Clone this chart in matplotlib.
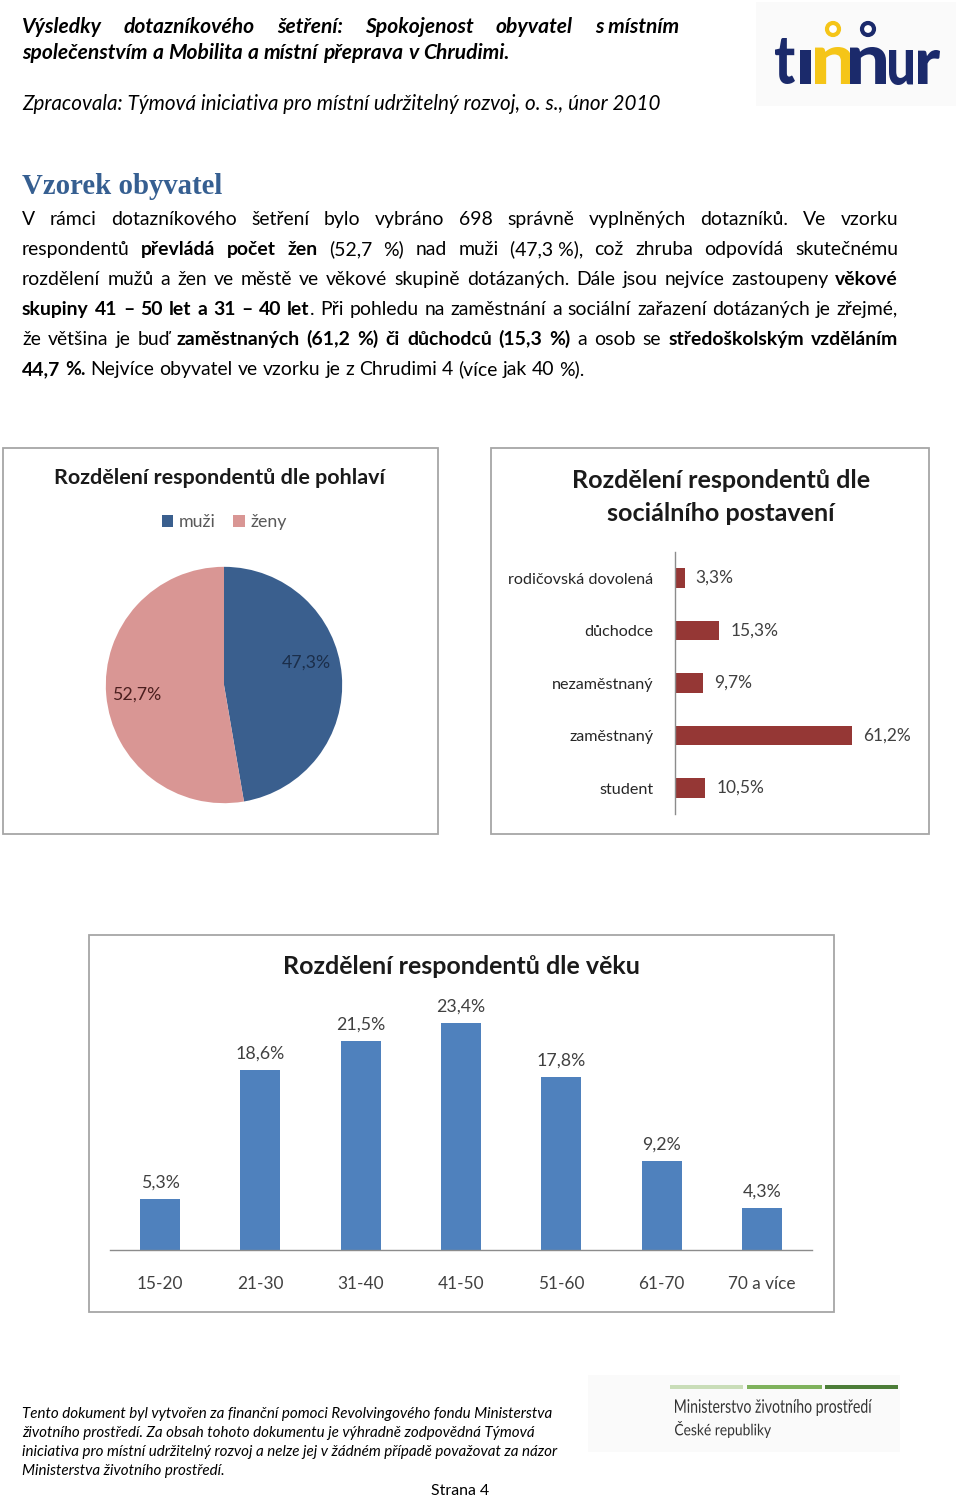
import matplotlib
matplotlib.use('Agg')
import matplotlib.pyplot as plt
from matplotlib.patches import Rectangle, PathPatch, Circle
from matplotlib.textpath import TextPath
from matplotlib.font_manager import FontProperties
from matplotlib.transforms import Affine2D, IdentityTransform

W, H = 960, 1496

# ---------------- data ----------------
gender_labels = ['muži', 'ženy']
gender_values = [47.3, 52.7]

social_labels = ['rodičovská dovolená', 'důchodce', 'nezaměstnaný', 'zaměstnaný', 'student']
social_values = [3.3, 15.3, 9.7, 61.2, 10.5]

age_labels = ['15-20', '21-30', '31-40', '41-50', '51-60', '61-70', '70 a více']
age_values = [5.3, 18.6, 21.5, 23.4, 17.8, 9.2, 4.3]

header_lines = ['Výsledky dotazníkového šetření: Spokojenost obyvatel s\u00a0místním',
                'společenstvím a Mobilita a místní přeprava v Chrudimi.']
sub_line = 'Zpracovala: Týmová iniciativa pro místní udržitelný rozvoj, o. s., únor 2010'
heading = 'Vzorek obyvatel'
paragraph = [
    'V rámci dotazníkového šetření bylo vybráno 698 správně vyplněných dotazníků. Ve vzorku',
    'respondentů **převládá počet žen** (52,7 %) nad muži (47,3\u00a0%), což zhruba odpovídá skutečnému',
    'rozdělení mužů a žen ve městě ve věkové skupině dotázaných. Dále jsou nejvíce zastoupeny **věkové**',
    '**skupiny 41 – 50 let a 31 – 40 let**. Při pohledu na zaměstnání a sociální zařazení dotázaných je zřejmé,',
    'že většina je buď **zaměstnaných (61,2 %) či důchodců (15,3 %)** a osob se **středoškolským vzděláním**',
    '**44,7 %.** Nejvíce obyvatel ve vzorku je z Chrudimi 4 (více jak 40 %).',
]
footer_lines = [
    'Tento dokument byl vytvořen za finanční pomoci Revolvingového fondu Ministerstva',
    'životního prostředí. Za obsah tohoto dokumentu je výhradně zodpovědná Týmová',
    'iniciativa pro místní udržitelný rozvoj a nelze jej v žádném případě považovat za názor',
    'Ministerstva životního prostředí.',
]

plt.rcParams['font.family'] = ['Lato', 'DejaVu Sans']
fig = plt.figure(figsize=(W / 100, H / 100), dpi=100)
fig.patch.set_facecolor('white')
renderer = fig.canvas.get_renderer()


def fx(x):
    return x / W


def fy(y):
    return 1 - y / H


def text_width(s, size, **kw):
    t = fig.text(0, 0, s, fontsize=size, **kw)
    w = t.get_window_extent(renderer).width
    t.remove()
    return w


def advance(s, size, **kw):
    return text_width(s + '|', size, **kw) - text_width('|', size, **kw)


def fit_size(s, width, **kw):
    return 20 * width / text_width(s, 20, **kw)


def parse_words(line):
    words, cur, buf, bold = [], [], '', False
    i = 0
    while i < len(line):
        if line.startswith('**', i):
            if buf:
                cur.append((buf, bold))
                buf = ''
            bold = not bold
            i += 2
            continue
        ch = line[i]
        if ch == ' ':
            if buf:
                cur.append((buf, bold))
                buf = ''
            if cur:
                words.append(cur)
                cur = []
        else:
            buf += ch
        i += 1
    if buf:
        cur.append((buf, bold))
    if cur:
        words.append(cur)
    return words


def piece_kw(b, style, base_bold=False):
    return dict(fontweight='bold' if (b or base_bold) else 'normal', fontstyle=style)


def line_metrics(line, size, style, base_bold=False):
    words = parse_words(line)
    wl = []
    for wd in words:
        wl.append([advance(t, size, **piece_kw(b, style, base_bold)) for t, b in wd])
    space = advance('a a', size, fontstyle=style) - advance('aa', size, fontstyle=style)
    return words, wl, space


def draw_line(line, x0, ybase, size, style='normal', justify_to=None, base_bold=False, color='black'):
    words, wl, space = line_metrics(line, size, style, base_bold)
    total = sum(sum(w) for w in wl)
    if justify_to is not None and len(words) > 1:
        gap = (justify_to - x0 - total) / (len(words) - 1)
    else:
        gap = space
    x = x0
    for wd, ws in zip(words, wl):
        for (t, b), w in zip(wd, ws):
            fig.text(fx(x), fy(ybase), t, fontsize=size, va='baseline', ha='left',
                     color=color, **piece_kw(b, style, base_bold))
            x += w
        x += gap


def line_width(line, size, style, base_bold=False):
    words, wl, space = line_metrics(line, size, style, base_bold)
    return sum(sum(w) for w in wl) + space * (len(words) - 1)


def path_text(s, box, color, weight='black', family='Lato'):
    x0, y0, x1, y1 = box
    tp = TextPath((0, 0), s, size=100, prop=FontProperties(family=family, weight=weight))
    ext = tp.get_extents()
    tr = (Affine2D().translate(-ext.x0, -ext.y0)
          .scale((x1 - x0) / ext.width, (y1 - y0) / ext.height)
          .translate(x0, H - y1))
    fig.add_artist(PathPatch(tr.transform_path(tp), fc=color, ec='none',
                             transform=IdentityTransform()))


# ---------------- header ----------------
hs = 20 * 486 / line_width(header_lines[1], 20, 'italic', True)
draw_line(header_lines[0], 22, 33, hs, 'italic', justify_to=679, base_bold=True)
draw_line(header_lines[1], 22, 59, hs, 'italic', base_bold=True)
ss = fit_size(sub_line, 637, fontstyle='italic')
fig.text(fx(22), fy(110), sub_line, fontsize=ss, fontstyle='italic', va='baseline')

# timur logo
fig.add_artist(Rectangle((fx(756), fy(106)), 200 / W, 104 / H, transform=fig.transFigure,
                         fc='#FAFAFA', ec='none'))
navy, yellow = '#1B2A6B', '#F5C518'
path_text('t', (775, 38, 795, 84), navy)
path_text('ı', (800, 50, 811, 84), navy)
path_text('n', (815, 47, 852, 84), yellow)
path_text('n', (850, 47, 886, 84), navy)
path_text('u', (889, 50, 913, 85), navy)
path_text('r', (918, 50, 940, 84), navy)
for cx, col in ((833, yellow), (868, navy)):
    fig.add_artist(Circle((cx, H - 29), 6, fc='white', ec=col, lw=3,
                          transform=IdentityTransform()))

# ---------------- heading + paragraph ----------------
hsz = fit_size(heading, 200, family='Liberation Serif', fontweight='bold')
fig.text(fx(22), fy(194), heading, fontsize=hsz, family='Liberation Serif',
         fontweight='bold', color='#365F91', va='baseline')

ps = 20 * 565 / line_width(paragraph[-1], 20, 'normal')
for i, ln in enumerate(paragraph):
    yb = 225 + 30 * i
    draw_line(ln, 22, yb, ps, 'normal', justify_to=None if i == len(paragraph) - 1 else 898)

# ---------------- chart boxes ----------------
for (x0, y0, x1, y1) in ((3, 448, 438, 834), (491, 448, 929, 834), (89, 935, 834, 1312)):
    fig.add_artist(Rectangle((fx(x0), fy(y1)), (x1 - x0) / W, (y1 - y0) / H,
                             transform=fig.transFigure, fill=False, ec='#A6A6A6', lw=1.3))

# ---------------- pie chart ----------------
t1 = 'Rozdělení respondentů dle pohlaví'
t1s = fit_size(t1, 330, fontweight='bold')
fig.text(fx(220), fy(484), t1, fontsize=t1s, fontweight='bold', ha='center', va='baseline',
         color='#1a1a1a')

ax1 = fig.add_axes([fx(94), fy(815), 260 / W, 260 / H])
wedges, texts, autotexts = ax1.pie(
    gender_values, colors=['#3A5F8E', '#D99694'], startangle=90, counterclock=False,
    autopct=lambda p: f'{p:.1f}%'.replace('.', ','), pctdistance=0.72,
    wedgeprops=dict(linewidth=0))
ax1.set_xlim(-1.1, 1.1)
ax1.set_ylim(-1.1, 1.1)
ax1.set_aspect('equal')
lab_s = fit_size('47,3%', 49)
for at, col in zip(autotexts, ['#1B2E4A', '#4A1E1E']):
    at.set_fontsize(lab_s)
    at.set_color(col)
x0_, y0_ = autotexts[0].get_position()
autotexts[0].set_position((x0_ - 0.02, y0_ + 0.13))
x1_, y1_ = autotexts[1].get_position()
autotexts[1].set_position((x1_ - 0.02, y1_ - 0.02))

leg_s = fit_size('muži', 37)
ax1.legend(wedges, gender_labels, loc='center', bbox_to_anchor=(fx(224), fy(522)),
           bbox_transform=fig.transFigure, ncol=2, frameon=False, fontsize=leg_s,
           handlelength=0.65, handleheight=0.65, handletextpad=0.3, columnspacing=1.0,
           labelcolor='#595959')

# ---------------- social chart ----------------
t2a, t2b = 'Rozdělení respondentů dle', 'sociálního postavení'
t2s = fit_size(t2a, 298, fontweight='bold')
fig.text(fx(721), fy(488), t2a, fontsize=t2s, fontweight='bold', ha='center', va='baseline',
         color='#1a1a1a')
fig.text(fx(721), fy(521), t2b, fontsize=t2s, fontweight='bold', ha='center', va='baseline',
         color='#1a1a1a')

ax2 = fig.add_axes([fx(675), fy(814.25), 202 / W, 262.5 / H])
ypos = list(range(len(social_labels)))
bars2 = ax2.barh(ypos, social_values, height=0.38, color='#953735')
ax2.set_xlim(0, 70)
ax2.set_ylim(len(social_labels) - 0.5, -0.5)
ax2.set_yticks(ypos)
cat_s = fit_size('rodičovská dovolená', 146)
ax2.set_yticklabels(social_labels, fontsize=cat_s, color='#262626')
ax2.tick_params(left=False, bottom=False, labelbottom=False, pad=12)
for sp in ('top', 'right', 'bottom'):
    ax2.spines[sp].set_visible(False)
ax2.spines['left'].set_color('#8C8C8C')
ax2.spines['left'].set_linewidth(1.0)
val_s = fit_size('61,2%', 48)
ax2.bar_label(bars2, labels=[f'{v:.1f}%'.replace('.', ',') for v in social_values],
              padding=8, fontsize=val_s, color='#404040')
ax2.patch.set_alpha(0)

# ---------------- age chart ----------------
t3 = 'Rozdělení respondentů dle věku'
t3s = fit_size(t3, 358, fontweight='bold')
fig.text(fx(461), fy(974), t3, fontsize=t3s, fontweight='bold', ha='center', va='baseline',
         color='#1a1a1a')

ax3 = fig.add_axes([fx(110), fy(1250), 702 / W, 242.5 / H])
xpos = list(range(len(age_labels)))
bars3 = ax3.bar(xpos, age_values, width=0.4, color='#4F81BD')
ax3.set_xlim(-0.5, len(age_labels) - 0.5)
ax3.set_ylim(0, 25)
ax3.set_xticks(xpos)
tick_s = fit_size('70 a více', 68)
ax3.set_xticklabels(age_labels, fontsize=tick_s, color='#404040')
ax3.tick_params(bottom=False, left=False, labelleft=False, pad=15)
for sp in ('top', 'right', 'left'):
    ax3.spines[sp].set_visible(False)
ax3.spines['bottom'].set_color('#8C8C8C')
ax3.spines['bottom'].set_linewidth(1.0)
v3s = fit_size('23,4%', 49)
ax3.bar_label(bars3, labels=[f'{v:.1f}%'.replace('.', ',') for v in age_values],
              padding=6, fontsize=v3s, color='#404040')
ax3.patch.set_alpha(0)

# ---------------- footer ----------------
fs = fit_size(footer_lines[2], 534, fontstyle='italic')
for i, ln in enumerate(footer_lines):
    fig.text(fx(22), fy(1418 + 19 * i), ln, fontsize=fs, fontstyle='italic', va='baseline')
sts = fit_size('Strana 4', 58)
fig.text(fx(460), fy(1495), 'Strana 4', fontsize=sts, ha='center', va='baseline')

# ministry logo
fig.add_artist(Rectangle((fx(588), fy(1452)), 312 / W, 77 / H, transform=fig.transFigure,
                         fc='#FAFAFA', ec='none'))
for (a, b, c) in ((670, 743, '#C9DDB8'), (747, 822, '#7FB25C'), (825, 898, '#4C7D38')):
    fig.add_artist(Rectangle((fx(a), fy(1389)), (b - a) / W, 4 / H, transform=fig.transFigure,
                             fc=c, ec='none'))
path_text('Ministerstvo životního prostředí', (675, 1399, 872, 1416), '#333333', weight='normal')
path_text('České republiky', (675, 1421, 771, 1438), '#333333', weight='normal')

fig.savefig('out.png', dpi=100, facecolor='white')
